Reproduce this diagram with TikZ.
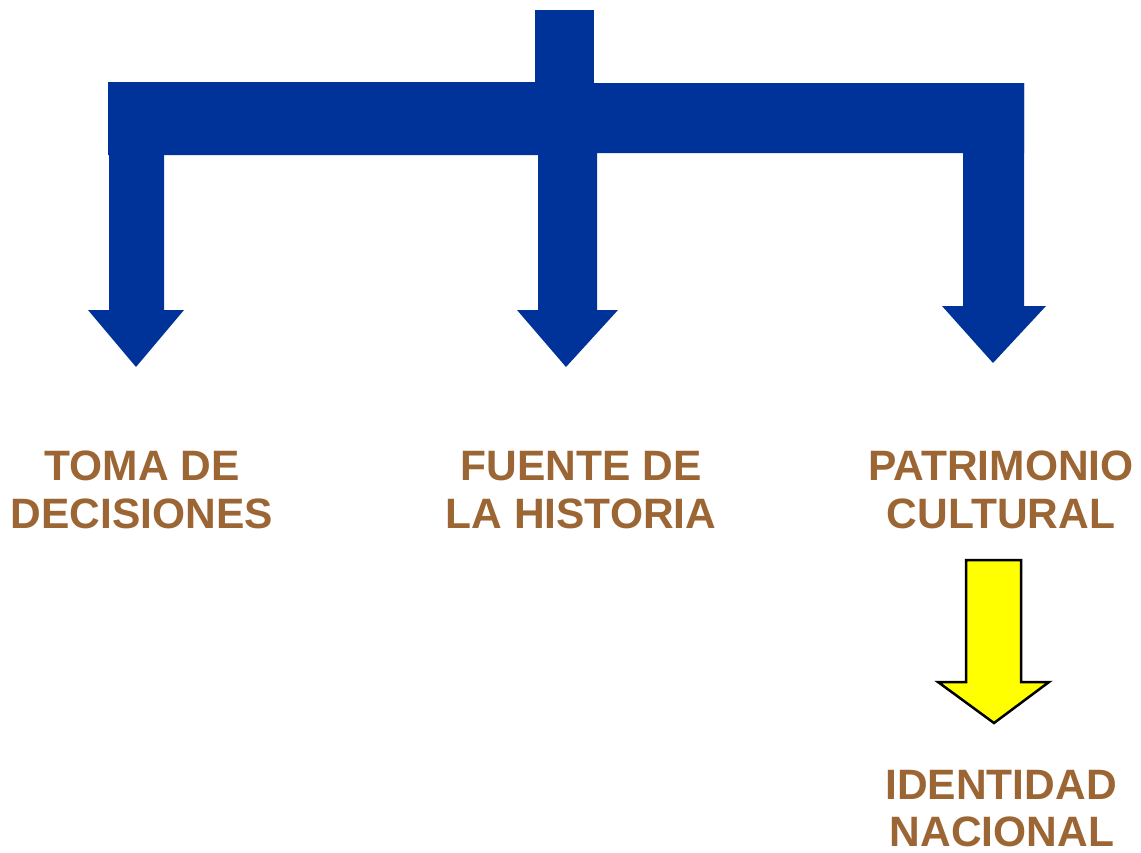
\documentclass[tikz,border=0pt]{standalone}
\usepackage{fontspec}
\setmainfont{Liberation Sans}
\definecolor{arrowblue}{RGB}{0,51,153}
\definecolor{labelbrown}{RGB}{155,102,52}
\definecolor{arrowyellow}{RGB}{255,255,0}
\begin{document}
\begin{tikzpicture}[x=1pt,y=-1pt,
  blueshape/.style={fill=arrowblue,draw=none},
  yellowarrow/.style={fill=arrowyellow,draw=black,line width=2.5pt,line join=miter},
  lbl/.style={anchor=base,inner sep=0pt,text=labelbrown,font=\fontsize{42.5}{48}\selectfont\bfseries}]
\useasboundingbox (0,0) rectangle (1141,852);
% top stem
\fill[blueshape] (535,10) rectangle (594,90);
% horizontal bar
\fill[blueshape] (108,82) -- (560,82) -- (560,83) -- (1024,83) -- (1024,153) -- (560,153) -- (560,155) -- (108,155) -- cycle;
% left arrow
\fill[blueshape] (109,82) -- (164,82) -- (164,310) -- (184,310) -- (136,367) -- (88,310) -- (109,310) -- cycle;
% middle arrow
\fill[blueshape] (538,150) -- (597,150) -- (597,310) -- (618,310) -- (566,367) -- (517,310) -- (538,310) -- cycle;
% right arrow
\fill[blueshape] (963,83) -- (1024,83) -- (1024,306) -- (1046,306) -- (993,363) -- (942,306) -- (963,306) -- cycle;
% yellow arrow
\draw[yellowarrow] (966,560) -- (1021,560) -- (1021,682) -- (1049,682) -- (994,723) -- (938,682) -- (966,682) -- cycle;
% labels
\node[lbl] (toma1) at (142,480) {TOMA DE};
\node[lbl] (toma2) at (142,528) {DECISIONES};
\node[lbl] (fuente1) at (581,480) {FUENTE DE};
\node[lbl] (fuente2) at (581,528) {LA HISTORIA};
\node[lbl] (patr1) at (1001,480) {PATRIMONIO};
\node[lbl] (patr2) at (1001,528) {CULTURAL};
\node[lbl] (ident1) at (1001,799) {IDENTIDAD};
\node[lbl] (ident2) at (1002,846) {NACIONAL};
\end{tikzpicture}
\end{document}
